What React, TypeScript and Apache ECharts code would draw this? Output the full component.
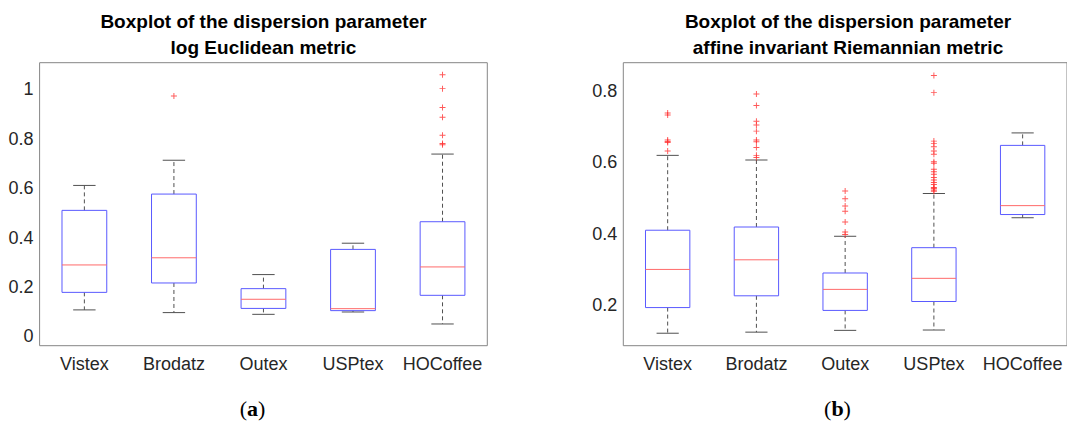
import React, { useEffect, useRef } from "react";
import * as echarts from "echarts";

const categories = ["Vistex", "Brodatz", "Outex", "USPtex", "HOCoffee"];

// (a) log Euclidean metric
const leLow = [0.107, 0.096, 0.089, 0.0985, 0.05];
const leQ1 = [0.178, 0.216, 0.113, 0.104, 0.166];
const leMed = [0.289, 0.318, 0.15, 0.112, 0.281];
const leQ3 = [0.51, 0.576, 0.193, 0.352, 0.464];
const leHigh = [0.611, 0.713, 0.25, 0.377, 0.738];
const leOutliers: [number, number][] = [
  [1, 0.973],
  [4, 1.059], [4, 1.003], [4, 0.927], [4, 0.887], [4, 0.814], [4, 0.781], [4, 0.776],
];

// (b) affine invariant Riemannian metric
const airLow = [0.121, 0.124, 0.129, 0.13, 0.445];
const airQ1 = [0.193, 0.226, 0.185, 0.21, 0.454];
const airMed = [0.3, 0.327, 0.244, 0.275, 0.479];
const airQ3 = [0.41, 0.419, 0.29, 0.361, 0.648];
const airHigh = [0.62, 0.607, 0.393, 0.513, 0.683];
const airOutliers: [number, number][] = [
  [0, 0.739], [0, 0.733], [0, 0.663], [0, 0.659], [0, 0.656], [0, 0.632],
  [1, 0.792], [1, 0.76], [1, 0.716], [1, 0.705], [1, 0.688], [1, 0.663], [1, 0.658], [1, 0.642], [1, 0.62], [1, 0.614],
  [2, 0.52], [2, 0.498], [2, 0.478], [2, 0.463], [2, 0.433], [2, 0.405], [2, 0.398],
  [3, 0.844], [3, 0.796], [3, 0.66], [3, 0.653], [3, 0.644], [3, 0.632], [3, 0.623], [3, 0.602], [3, 0.598],
  [3, 0.581], [3, 0.574], [3, 0.567], [3, 0.558], [3, 0.551], [3, 0.544], [3, 0.538], [3, 0.53], [3, 0.528],
  [3, 0.526], [3, 0.522], [3, 0.519],
];

const titleA = "Boxplot of the dispersion parameter\nlog Euclidean metric";
const titleB = "Boxplot of the dispersion parameter\naffine invariant Riemannian metric";

const FONT = "'Liberation Sans', Arial, Helvetica, sans-serif";
const FRAME = "#868686";
const PLUS = "path://M0,4.2H10V5.8H0Z M4.2,0H5.8V10H4.2Z";

function boxData(low: number[], q1: number[], med: number[], q3: number[], high: number[]) {
  return categories.map((_, i) => [i, low[i], q1[i], med[i], q3[i], high[i]]);
}

function renderBox(params: any, api: any) {
  const i = api.value(0);
  const low = api.coord([i, api.value(1)]);
  const q1 = api.coord([i, api.value(2)]);
  const med = api.coord([i, api.value(3)]);
  const q3 = api.coord([i, api.value(4)]);
  const high = api.coord([i, api.value(5)]);
  const band = api.size([1, 0])[0];
  const bw = band * 0.5;
  const cw = band * 0.25;
  const x = low[0];
  const whisk = { stroke: "#505050", lineWidth: 1, lineDash: [4, 3], fill: null };
  const cap = { stroke: "#505050", lineWidth: 1, fill: null };
  return {
    type: "group",
    children: [
      { type: "line", shape: { x1: x, y1: q3[1], x2: x, y2: high[1] }, style: whisk },
      { type: "line", shape: { x1: x, y1: q1[1], x2: x, y2: low[1] }, style: whisk },
      { type: "line", shape: { x1: x - cw / 2, y1: high[1], x2: x + cw / 2, y2: high[1] }, style: cap },
      { type: "line", shape: { x1: x - cw / 2, y1: low[1], x2: x + cw / 2, y2: low[1] }, style: cap },
      {
        type: "rect",
        shape: { x: x - bw / 2, y: q3[1], width: bw, height: q1[1] - q3[1] },
        style: { fill: "none", stroke: "#5a5aff", lineWidth: 1 },
      },
      {
        type: "line",
        shape: { x1: x - bw / 2, y1: med[1], x2: x + bw / 2, y2: med[1] },
        style: { stroke: "#ff6a6a", lineWidth: 1, fill: null },
      },
    ],
  };
}

function axesFor(gridIndex: number, min: number, max: number) {
  const tick = { inside: true, alignWithLabel: true, interval: 0, length: 4, lineStyle: { color: FRAME } };
  const xs = [
    {
      gridIndex, type: "category", data: categories, position: "bottom",
      axisLine: { show: false }, axisTick: tick,
      axisLabel: { interval: 0, fontSize: 18, color: "#262626", margin: 9, fontFamily: FONT },
    },
    {
      gridIndex, type: "category", data: categories, position: "top",
      axisLine: { show: false }, axisTick: tick, axisLabel: { show: false, interval: 0 },
    },
  ];
  const ytick = { inside: true, length: 4, lineStyle: { color: FRAME } };
  const ys = [
    {
      gridIndex, type: "value", min, max, splitNumber: 5, position: "left",
      splitLine: { show: false }, axisLine: { show: false }, axisTick: ytick,
      axisLabel: {
        fontSize: 18, color: "#262626", margin: 6, fontFamily: FONT,
        showMinLabel: false, showMaxLabel: false,
      },
    },
    {
      gridIndex, type: "value", min, max, splitNumber: 5, position: "right",
      splitLine: { show: false }, axisLine: { show: false }, axisTick: ytick,
      axisLabel: { show: false },
    },
  ];
  return { xs, ys };
}

export default function App() {
  const ref = useRef<HTMLDivElement>(null);
  useEffect(() => {
    if (!ref.current) return;
    const chart = echarts.init(ref.current, undefined, { renderer: "svg" });
    const a = axesFor(0, -0.038, 1.108);
    const b = axesFor(1, 0.086, 0.88);
    chart.setOption({
      animation: false,
      backgroundColor: "#ffffff",
      grid: [
        { left: 39.6, top: 62.7, width: 447.7, height: 283, show: true, borderColor: FRAME, borderWidth: 1, backgroundColor: "transparent" },
        { left: 623.3, top: 62.7, width: 449, height: 283, show: true, borderColor: FRAME, borderWidth: 1, backgroundColor: "transparent" },
      ],
      xAxis: [...a.xs, ...b.xs],
      yAxis: [...a.ys, ...b.ys],
      series: [
        {
          type: "custom", xAxisIndex: 0, yAxisIndex: 0,
          data: boxData(leLow, leQ1, leMed, leQ3, leHigh),
          encode: { x: 0, y: [1, 2, 3, 4, 5] },
          renderItem: renderBox,
        },
        {
          type: "scatter", xAxisIndex: 0, yAxisIndex: 0, data: leOutliers,
          symbol: PLUS, symbolSize: 6, itemStyle: { color: "#ff3030" },
        },
        {
          type: "custom", xAxisIndex: 2, yAxisIndex: 2,
          data: boxData(airLow, airQ1, airMed, airQ3, airHigh),
          encode: { x: 0, y: [1, 2, 3, 4, 5] },
          renderItem: renderBox,
        },
        {
          type: "scatter", xAxisIndex: 2, yAxisIndex: 2, data: airOutliers,
          symbol: PLUS, symbolSize: 6, itemStyle: { color: "#ff3030" },
        },
      ],
      graphic: [
        {
          type: "text", x: 263.5, y: 9,
          style: { text: titleA, textAlign: "center", textVerticalAlign: "top", font: `bold 19px ${FONT}`, lineHeight: 25.5, fill: "#000" },
        },
        {
          type: "text", x: 848, y: 9,
          style: { text: titleB, textAlign: "center", textVerticalAlign: "top", font: `bold 19px ${FONT}`, lineHeight: 25.5, fill: "#000" },
        },
        {
          type: "text", x: 252.5, y: 408,
          style: {
            text: "{p|(}{b|a}{p|)}", textAlign: "center", textVerticalAlign: "middle",
            rich: {
              p: { fontFamily: "'Liberation Serif', serif", fontSize: 22, fill: "#000" },
              b: { fontFamily: "'Liberation Serif', serif", fontSize: 22, fontWeight: "bold", fill: "#000" },
            },
          },
        },
        {
          type: "text", x: 837.5, y: 408,
          style: {
            text: "{p|(}{b|b}{p|)}", textAlign: "center", textVerticalAlign: "middle",
            rich: {
              p: { fontFamily: "'Liberation Serif', serif", fontSize: 22, fill: "#000" },
              b: { fontFamily: "'Liberation Serif', serif", fontSize: 22, fontWeight: "bold", fill: "#000" },
            },
          },
        },
      ],
    });
    return () => chart.dispose();
  }, []);
  return (
    <div
      ref={ref}
      style={{ position: "fixed", left: 0, top: 0, width: 1067, height: 425, background: "#fff" }}
    />
  );
}
